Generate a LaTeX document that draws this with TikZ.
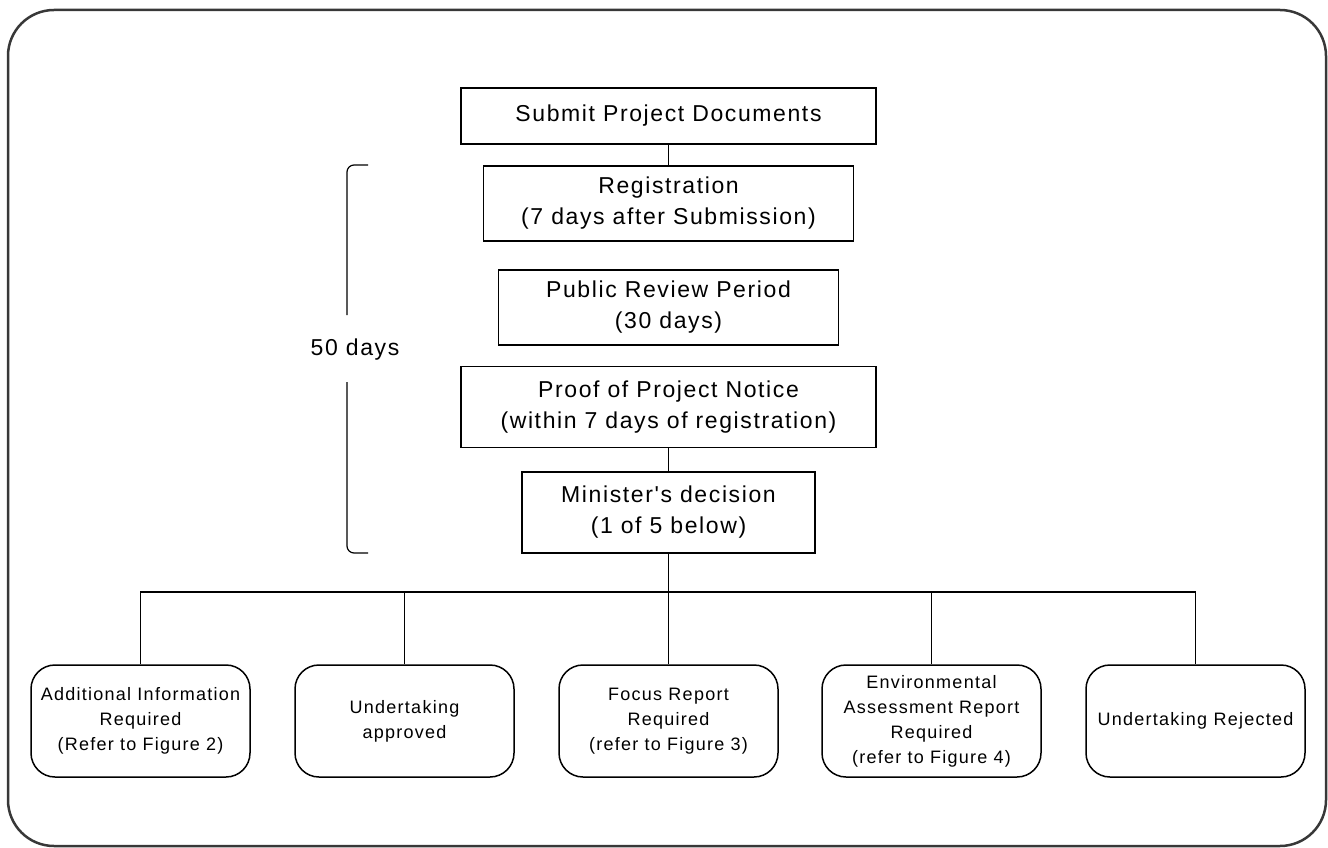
\documentclass[tikz,border=0pt]{standalone}
\usepackage{fontspec}
\setmainfont{Liberation Sans}
\newfontfamily\boxfont[LetterSpace=7]{Liberation Sans}
\begin{document}
\begin{tikzpicture}[x=1pt,y=-1pt,
  mainbox/.style={draw=black, line width=1.5pt, align=center, inner sep=0pt,
    font=\boxfont\fontsize{23}{31}\selectfont},
  endbox/.style={draw=black, line width=1.5pt, rounded corners=24pt, align=center,
    inner sep=0pt, minimum width=219pt, minimum height=112pt,
    font=\boxfont\fontsize{18}{25}\selectfont},
  conn/.style={draw=black, line width=1.5pt},
  frame/.style={draw=black!78, line width=2.5pt, rounded corners=46pt}]
\useasboundingbox (0,0) rectangle (1328,848);
\draw[frame] (8,10) rectangle (1326,846);

\node[mainbox, minimum width=415pt, minimum height=56pt] (sub) at (668.5,116) {Submit Project Documents};
\node[mainbox, minimum width=370pt, minimum height=75pt] (reg) at (668.5,203.5) {Registration\\(7 days after Submission)};
\node[mainbox, minimum width=340pt, minimum height=75pt] (pub) at (668.5,307.5) {Public Review Period\\(30 days)};
\node[mainbox, minimum width=415pt, minimum height=81pt] (proof) at (668.5,407) {Proof of Project Notice\\(within 7 days of registration)};
\node[mainbox, minimum width=293pt, minimum height=81pt] (min) at (668.5,512.5) {Minister's decision\\(1 of 5 below)};

\node[endbox] (b1) at (140.5,721) {Additional Information\\Required\\(Refer to Figure 2)};
\node[endbox] (b2) at (404.5,721) {Undertaking\\approved};
\node[endbox] (b3) at (668.5,721) {Focus Report\\Required\\(refer to Figure 3)};
\node[endbox] (b4) at (931.5,721) {Environmental\\Assessment Report\\Required\\(refer to Figure 4)};
\node[endbox] (b5) at (1195.5,721) {Undertaking Rejected};

\coordinate (bus) at (668.5,592);
\draw[conn] (sub) -- (reg);
\draw[conn] (proof) -- (min);
\draw[conn] (min.south) -- (bus);
\draw[conn] (b1.north) |- (bus) -| (b5.north);
\draw[conn] (b2.north) -- (b2.north |- bus);
\draw[conn] (b3.north) -- (bus);
\draw[conn] (b4.north) -- (b4.north |- bus);

\node[font=\boxfont\fontsize{23}{28}\selectfont, inner sep=0pt] (days) at (355,350) {50 days};
\coordinate (brt) at (368,165);
\coordinate (brb) at (368,553);
\draw[conn, line width=1.2pt, rounded corners=7pt] (brt) -- (347,165) -- (347,315);
\draw[conn, line width=1.2pt, rounded corners=7pt] (347,382) -- (347,553) -- (brb);
\end{tikzpicture}
\end{document}
